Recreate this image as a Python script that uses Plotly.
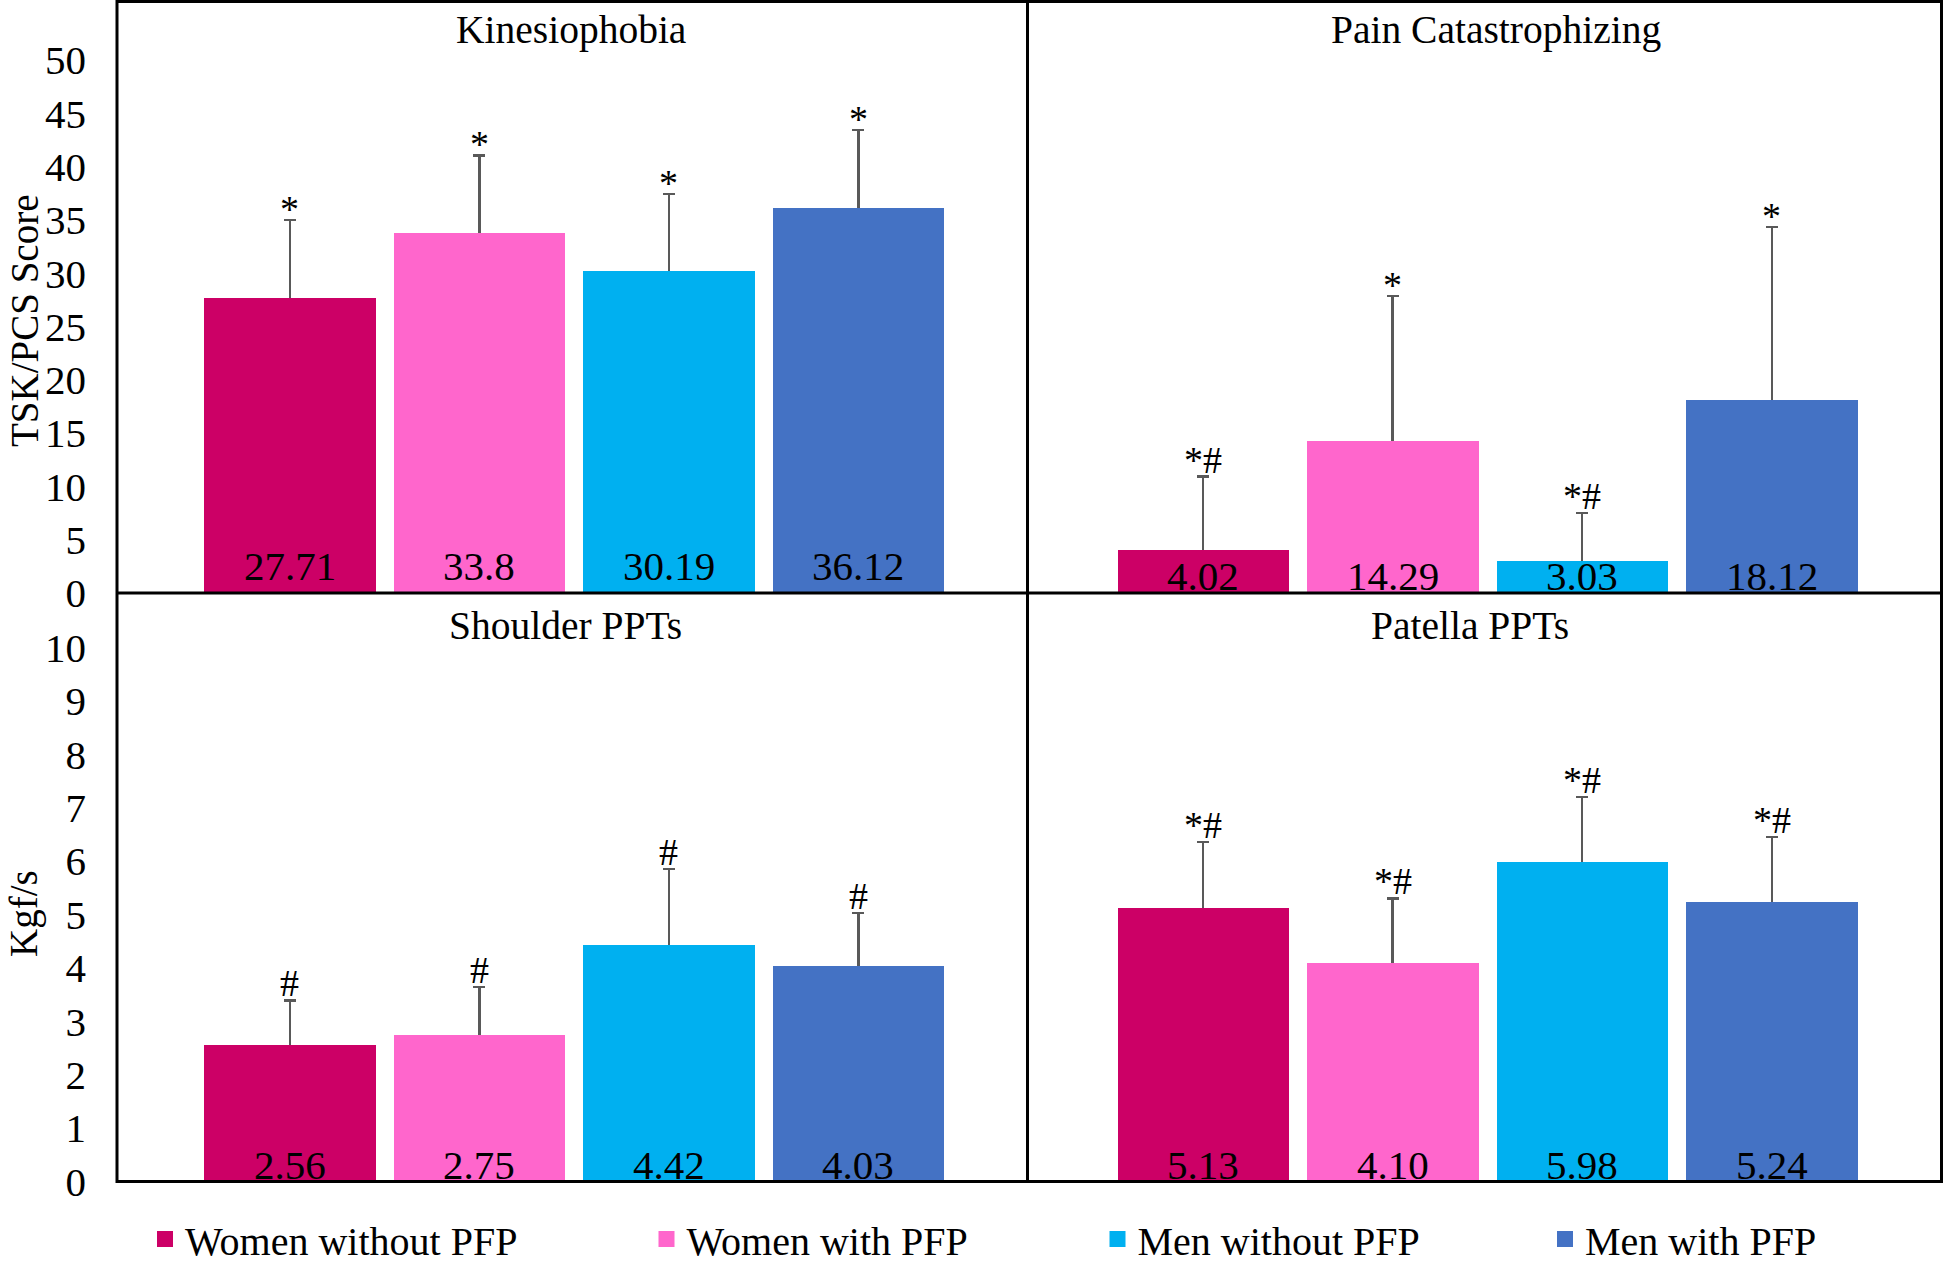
import plotly.graph_objects as go

W, H = 1945, 1265

groups = ["Women without PFP", "Women with PFP", "Men without PFP", "Men with PFP"]
colors = ["#CC0066", "#FF66CC", "#00B0F0", "#4472C4"]
positions = [0, 1, 2, 3]

panel_titles = ["Kinesiophobia", "Pain Catastrophizing", "Shoulder PPTs", "Patella PPTs"]

kin_mean = [27.71, 33.80, 30.19, 36.12]
kin_sd = [7.30, 7.25, 7.23, 7.29]
kin_labels = ["27.71", "33.8", "30.19", "36.12"]
kin_marks = ["*", "*", "*", "*"]

pcs_mean = [4.02, 14.29, 3.03, 18.12]
pcs_sd = [6.90, 13.60, 4.45, 16.20]
pcs_labels = ["4.02", "14.29", "3.03", "18.12"]
pcs_marks = ["*#", "*", "*#", "*"]

sh_mean = [2.56, 2.75, 4.42, 4.03]
sh_sd = [0.83, 0.89, 1.43, 1.00]
sh_labels = ["2.56", "2.75", "4.42", "4.03"]
sh_marks = ["#", "#", "#", "#"]

pat_mean = [5.13, 4.10, 5.98, 5.24]
pat_sd = [1.23, 1.20, 1.22, 1.21]
pat_labels = ["5.13", "4.10", "5.98", "5.24"]
pat_marks = ["*#", "*#", "*#", "*#"]

top_ticks = list(range(0, 51, 5))
bottom_ticks = list(range(0, 11, 1))

FONT = "Liberation Serif, Times New Roman, serif"


def px(x):
    return x / W


def py(y):
    return 1 - y / H


panels = [
    dict(mean=kin_mean, sd=kin_sd, labels=kin_labels, marks=kin_marks, ax="", lshift=27),
    dict(mean=pcs_mean, sd=pcs_sd, labels=pcs_labels, marks=pcs_marks, ax="2", lshift=17),
    dict(mean=sh_mean, sd=sh_sd, labels=sh_labels, marks=sh_marks, ax="3", lshift=17),
    dict(mean=pat_mean, sd=pat_sd, labels=pat_labels, marks=pat_marks, ax="4", lshift=17),
]

BAR_W = 0.905
fig = go.Figure()
annotations = []

for p in panels:
    xa = "x" + p["ax"]
    ya = "y" + p["ax"]
    # error bars (upper only) carried by a transparent trace drawn beneath the bars
    fig.add_trace(go.Bar(
        x=positions, y=p["mean"], width=BAR_W, xaxis=xa, yaxis=ya,
        marker=dict(color="rgba(0,0,0,0)", line=dict(width=0)),
        error_y=dict(type="data", symmetric=False, array=p["sd"], arrayminus=p["mean"],
                     color="#595959", thickness=2.2, width=6),
        showlegend=False, hoverinfo="skip",
    ))
    fig.add_trace(go.Bar(
        x=positions, y=p["mean"], width=BAR_W, xaxis=xa, yaxis=ya,
        marker=dict(color=colors, line=dict(width=0)),
        showlegend=False,
    ))
    for i in positions:
        annotations.append(dict(
            x=i, y=0, xref=xa, yref=ya, text=p["labels"][i], showarrow=False,
            yanchor="middle", yshift=p["lshift"], font=dict(family=FONT, size=41, color="black"),
        ))
        mark = p["marks"][i]
        annotations.append(dict(
            x=i, y=p["mean"][i] + p["sd"][i], xref=xa, yref=ya, text=mark, showarrow=False,
            yanchor="bottom", yshift=(-6 if "#" in mark else -12),
            font=dict(family=FONT, size=38, color="black"),
        ))

# legend entries
legend_centers = [165, 666.5, 1117.5, 1565]
for k, g in enumerate(groups):
    lname = "legend" if k == 0 else f"legend{k+1}"
    fig.add_trace(go.Scatter(
        x=[None], y=[None], mode="markers", name=g,
        marker=dict(symbol="square", size=20, color=colors[k]),
        legend=lname, showlegend=True,
    ))

# panel titles
title_pos = [(571, 30), (1496, 30), (565.5, 626), (1470, 626)]
for t, (tx, ty) in zip(panel_titles, title_pos):
    annotations.append(dict(
        x=px(tx), y=py(ty), xref="paper", yref="paper", text=t, showarrow=False,
        xanchor="center", yanchor="middle", font=dict(family=FONT, size=39.5, color="black"),
    ))

# y axis titles
annotations.append(dict(x=px(24), y=py(321), xref="paper", yref="paper", text="TSK/PCS Score",
                        textangle=-90, showarrow=False, xanchor="center", yanchor="middle",
                        font=dict(family=FONT, size=39, color="black")))
annotations.append(dict(x=px(24), y=py(914), xref="paper", yref="paper", text="Kgf/s",
                        textangle=-90, showarrow=False, xanchor="center", yanchor="middle",
                        font=dict(family=FONT, size=39, color="black")))

XL = [px(117), px(1027.5)]
XR = [px(1027.5), px(1941.5)]
YT = [py(593), py(0)]
YB = [py(1181.5), py(593)]

ppu_top = 533 / 50
ppu_bot = 534 / 10
top_range = [0, 593 / ppu_top]
bot_range = [0, (1181.5 - 593) / ppu_bot]

left_range = [-(290 - 117) / 189.5, 3 + (1027.5 - 858.4) / 189.5]
right_range = [-(1203 - 1027.5) / 189.6, 3 + (1941.5 - 1771.7) / 189.6]

xcommon = dict(showgrid=False, zeroline=False, showticklabels=False, ticks="", showline=False,
               fixedrange=True, automargin=False)
ybase = dict(showgrid=False, zeroline=False, ticks="", showline=False, fixedrange=True, automargin=False)
ylab = dict(tickfont=dict(family=FONT, size=41, color="black"), ticklabelstandoff=30)

fig.update_layout(
    width=W, height=H,
    margin=dict(l=0, r=0, t=0, b=0, autoexpand=False),
    paper_bgcolor="white", plot_bgcolor="white",
    barmode="overlay", bargap=0,
    xaxis=dict(domain=XL, range=left_range, anchor="y", **xcommon),
    xaxis2=dict(domain=XR, range=right_range, anchor="y2", **xcommon),
    xaxis3=dict(domain=XL, range=left_range, anchor="y3", **xcommon),
    xaxis4=dict(domain=XR, range=right_range, anchor="y4", **xcommon),
    yaxis=dict(domain=YT, range=top_range, anchor="x", tickvals=top_ticks, **ybase, **ylab),
    yaxis2=dict(domain=YT, range=top_range, anchor="x2", showticklabels=False, **ybase),
    yaxis3=dict(domain=YB, range=bot_range, anchor="x3", tickvals=bottom_ticks, **ybase, **ylab),
    yaxis4=dict(domain=YB, range=bot_range, anchor="x4", showticklabels=False, **ybase),
    annotations=annotations,
    showlegend=True,
)

for k in range(4):
    lname = "legend" if k == 0 else f"legend{k+1}"
    fig.update_layout(**{lname: dict(
        x=px(legend_centers[k] - 20), y=py(1239), xanchor="left", yanchor="middle",
        orientation="h", bgcolor="rgba(0,0,0,0)", borderwidth=0,
        font=dict(family=FONT, size=40, color="black"),
        itemclick=False, itemdoubleclick=False,
    )})

# panel frame lines
LW = 3
frame = [
    (117, 1.5, 1941.5, 1.5),
    (117, 593, 1941.5, 593),
    (117, 1181.5, 1941.5, 1181.5),
    (117, 0, 117, 1183),
    (1027.5, 0, 1027.5, 1183),
    (1941.5, 0, 1941.5, 1183),
]
for x0, y0, x1, y1 in frame:
    fig.add_shape(type="line", xref="paper", yref="paper",
                  x0=px(x0), y0=py(y0), x1=px(x1), y1=py(y1),
                  line=dict(color="black", width=LW), layer="above")

fig.write_html("out.html", config={"displayModeBar": False},
               post_script="document.body.style.margin='0';document.body.style.overflow='hidden';")
